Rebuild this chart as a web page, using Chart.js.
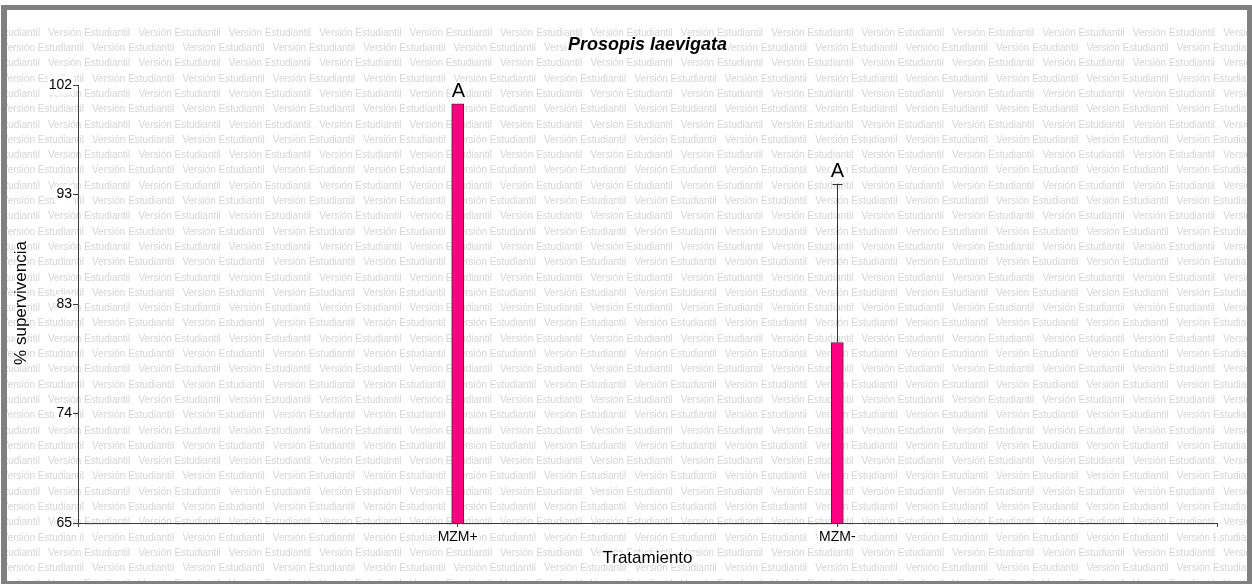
<!DOCTYPE html>
<html>
<head>
<meta charset="utf-8">
<script src="https://cdn.jsdelivr.net/npm/chart.js@4/dist/chart.umd.min.js"></script>
<style>
  html, body { margin: 0; padding: 0; background: #ffffff; }
  #wrap { position: relative; width: 1252px; height: 585px; }
  canvas { display: block; }
</style>
</head>
<body>
<div id="wrap"><canvas id="chart" width="1252" height="585"></canvas></div>
<script>
// Survival per treatment (%)
const categories = ['MZM+', 'MZM-'];
const survival = [100.4, 80.25];
const errorTop = [100.4, 93.65];
const groupLetters = ['A', 'A'];

// Y axis ticks: evenly spaced positions and their printed labels
const yTickValues = [65, 74.25, 83.5, 92.75, 102];
const yTickLabels = ['65', '74', '83', '93', '102'];

const chartTitle = 'Prosopis laevigata';
const xTitle = 'Tratamiento';
const yTitle = '% supervivencia';
const watermarkText = 'Versión Estudiantil';

const FONT = '"Liberation Sans", Arial, sans-serif';
const AXIS_COLOR = '#3c3c3c';

function labelWithBackground(ctx, text, x, y, font, padX, padY) {
  ctx.save();
  ctx.font = font;
  ctx.textAlign = 'center';
  ctx.textBaseline = 'middle';
  const w = ctx.measureText(text).width;
  const m = ctx.measureText('M');
  const h = (m.actualBoundingBoxAscent || 10) + 4;
  ctx.fillStyle = '#ffffff';
  ctx.fillRect(x - w / 2 - padX, y - h / 2 - padY, w + 2 * padX, h + 2 * padY);
  ctx.fillStyle = '#000000';
  ctx.fillText(text, x, y);
  ctx.restore();
}

// Repeated background text and outer frame
const backgroundPlugin = {
  id: 'backgroundPlugin',
  beforeDraw(chart) {
    const ctx = chart.ctx;
    ctx.save();
    ctx.fillStyle = '#ffffff';
    ctx.fillRect(0, 0, chart.width, chart.height);
    ctx.beginPath();
    ctx.rect(7, 10, 1240, 571);
    ctx.clip();
    ctx.font = '10px ' + FONT;
    ctx.fillStyle = '#d5d5d5';
    ctx.textBaseline = 'middle';
    ctx.textAlign = 'left';
    const period = 90.4;
    for (let k = 0; ; k++) {
      const y = 33 + 15.3 * k;
      if (y > 590) break;
      let x = (k % 2 === 0 ? 48 : 92) - period;
      for (; x < 1260; x += period) ctx.fillText(watermarkText, x, y);
    }
    ctx.restore();
  },
  afterDraw(chart) {
    const ctx = chart.ctx;
    ctx.save();
    ctx.fillStyle = '#808080';
    ctx.fillRect(1, 5, 1251, 5);      // top
    ctx.fillRect(1, 5, 6, 579);       // left
    ctx.fillRect(1247, 5, 5, 579);    // right
    ctx.fillRect(1, 581, 1251, 3);    // bottom
    ctx.restore();
  }
};

// Error whiskers, group letters, titles
const annotationPlugin = {
  id: 'annotationPlugin',
  afterDatasetsDraw(chart) {
    const ctx = chart.ctx;
    const xs = chart.scales.x, ys = chart.scales.y;
    ctx.save();
    ctx.strokeStyle = '#333333';
    ctx.lineWidth = 1;
    categories.forEach((c, i) => {
      const px = Math.round(xs.getPixelForValue(i + 1)) + 0.5;
      const top = ys.getPixelForValue(survival[i]);
      const eTop = ys.getPixelForValue(errorTop[i]);
      if (errorTop[i] > survival[i]) {
        ctx.beginPath();
        ctx.moveTo(px, top);
        ctx.lineTo(px, Math.round(eTop) + 0.5);
        ctx.moveTo(px - 5, Math.round(eTop) + 0.5);
        ctx.lineTo(px + 5, Math.round(eTop) + 0.5);
        ctx.stroke();
      }
      const letterY = Math.min(top, eTop) - 12.5;
      labelWithBackground(ctx, groupLetters[i], px, letterY, '20px ' + FONT, 1, 0);
    });
    ctx.restore();
  },
  afterDraw(chart) {
    const ctx = chart.ctx;
    const area = chart.chartArea;
    const cx = (area.left + area.right) / 2;
    labelWithBackground(ctx, chartTitle, cx, 45, 'italic bold 18px ' + FONT, 1, 0);
    labelWithBackground(ctx, xTitle, cx, 558, '17px ' + FONT, 2, 0);
    ctx.save();
    ctx.translate(21, 303);
    ctx.rotate(-Math.PI / 2);
    labelWithBackground(ctx, yTitle, 0, 0, '17px ' + FONT, 2, 0);
    ctx.restore();
  }
};

new Chart(document.getElementById('chart'), {
  type: 'bar',
  data: {
    datasets: [{
      data: survival.map((v, i) => ({ x: i + 1, y: v })),
      backgroundColor: '#ff0080',
      borderColor: '#5a2040',
      borderWidth: 1,
      barThickness: 12
    }]
  },
  options: {
    responsive: false,
    animation: false,
    events: [],
    layout: { padding: { left: 0, right: 35, top: 85, bottom: 0 } },
    plugins: {
      legend: { display: false },
      title: { display: false },
      tooltip: { enabled: false }
    },
    scales: {
      x: {
        type: 'linear',
        min: 0,
        max: 3,
        offset: false,
        afterBuildTicks(scale) {
          scale.ticks = [0, 1, 2, 3].map(v => ({ value: v }));
        },
        afterFit(scale) { scale.height = 62; },
        grid: { offset: false, drawOnChartArea: false, drawTicks: true, tickLength: 4, color: AXIS_COLOR },
        border: { color: AXIS_COLOR, width: 1 },
        ticks: {
          autoSkip: false,
          maxRotation: 0,
          padding: 2,
          color: '#000000',
          font: { family: FONT, size: 14 },
          showLabelBackdrop: true,
          backdropColor: '#ffffff',
          backdropPadding: 1,
          callback: (v) => categories[v - 1] || ''
        }
      },
      y: {
        min: 65,
        max: 102,
        afterBuildTicks(scale) {
          scale.ticks = yTickValues.map(v => ({ value: v }));
        },
        afterFit(scale) { scale.width = 78; },
        grid: { drawOnChartArea: false, drawTicks: true, tickLength: 5, color: AXIS_COLOR },
        border: { color: AXIS_COLOR, width: 1 },
        ticks: {
          autoSkip: false,
          padding: 1,
          color: '#000000',
          font: { family: FONT, size: 14 },
          showLabelBackdrop: true,
          backdropColor: '#ffffff',
          backdropPadding: 1,
          callback: (v) => {
            const i = yTickValues.indexOf(v);
            return i >= 0 ? yTickLabels[i] : '';
          }
        }
      }
    }
  },
  plugins: [backgroundPlugin, annotationPlugin]
});
</script>
</body>
</html>
